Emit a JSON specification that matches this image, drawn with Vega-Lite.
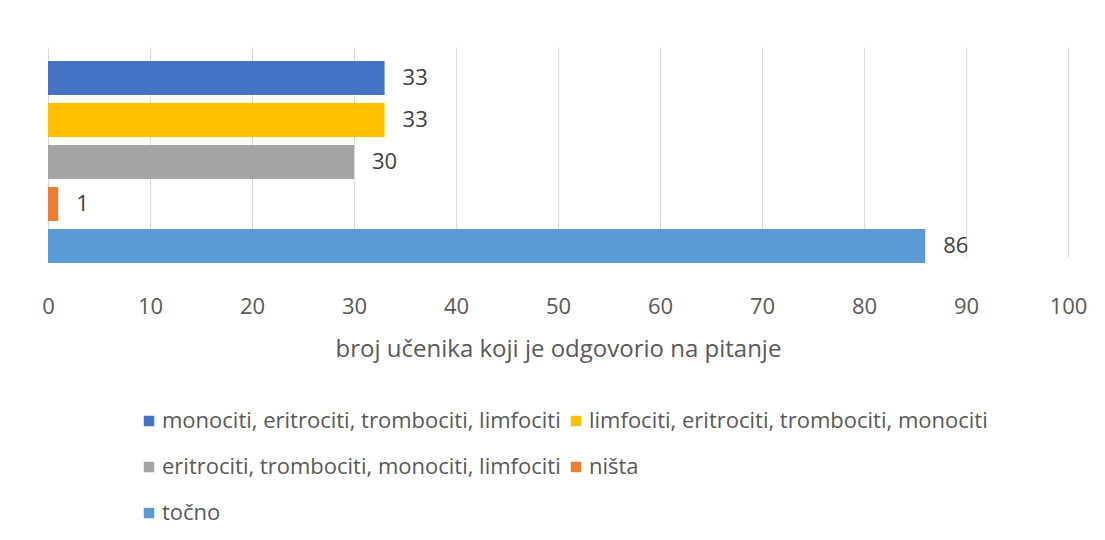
{
  "$schema": "https://vega.github.io/schema/vega-lite/v6.json",
  "width": 1020,
  "height": 220,
  "padding": {"left": 41, "top": 47, "right": 20, "bottom": 8},
  "background": "white",
  "config": {
    "view": {"stroke": null},
    "font": "Open Sans"
  },
  "data": {
    "values": [
      {"odgovor": "monociti, eritrociti, trombociti, limfociti", "broj": 33},
      {"odgovor": "limfociti, eritrociti, trombociti, monociti", "broj": 33},
      {"odgovor": "eritrociti, trombociti, monociti, limfociti", "broj": 30},
      {"odgovor": "ništa", "broj": 1},
      {"odgovor": "točno", "broj": 86}
    ]
  },
  "encoding": {
    "y": {
      "field": "odgovor",
      "type": "nominal",
      "sort": null,
      "axis": null,
      "scale": {"range": [10, 220], "paddingInner": 0.19, "paddingOuter": 0.095}
    },
    "x": {
      "field": "broj",
      "type": "quantitative",
      "scale": {"domain": [0, 100], "nice": false},
      "axis": {
        "values": [0, 10, 20, 30, 40, 50, 60, 70, 80, 90, 100],
        "title": "broj učenika koji je odgovorio na pitanje",
        "titleFont": "Open Sans",
        "titleFontSize": 24,
        "titleFontWeight": "normal",
        "titleColor": "#595959",
        "titlePadding": 20,
        "labelFont": "Open Sans",
        "labelFontSize": 22,
        "labelColor": "#595959",
        "labelPadding": 29,
        "labelFlush": false,
        "labelBound": false,
        "labelOverlap": false,
        "ticks": false,
        "domain": false,
        "grid": true,
        "gridColor": "#D9D9D9",
        "gridWidth": 1
      }
    }
  },
  "layer": [
    {
      "mark": {"type": "bar"},
      "encoding": {
        "color": {
          "field": "odgovor",
          "type": "nominal",
          "sort": null,
          "scale": {
            "domain": [
              "monociti, eritrociti, trombociti, limfociti",
              "limfociti, eritrociti, trombociti, monociti",
              "eritrociti, trombociti, monociti, limfociti",
              "ništa",
              "točno"
            ],
            "range": ["#4472C4", "#FFC000", "#A5A5A5", "#ED7D31", "#5B9BD5"]
          },
          "legend": {
            "title": null,
            "orient": "none",
            "legendX": 90,
            "legendY": 363,
            "direction": "horizontal",
            "columns": 2,
            "columnPadding": 4,
            "rowPadding": 24,
            "symbolType": "square",
            "symbolSize": 110,
            "symbolStrokeWidth": 0,
            "labelFont": "Open Sans",
            "labelFontSize": 22,
            "labelColor": "#595959",
            "labelOffset": 2,
            "labelLimit": 700
          }
        }
      }
    },
    {
      "mark": {
        "type": "text",
        "align": "left",
        "baseline": "middle",
        "dx": 18,
        "font": "Open Sans",
        "fontSize": 22,
        "color": "#404040"
      },
      "encoding": {
        "text": {"field": "broj", "type": "quantitative"}
      }
    }
  ]
}
